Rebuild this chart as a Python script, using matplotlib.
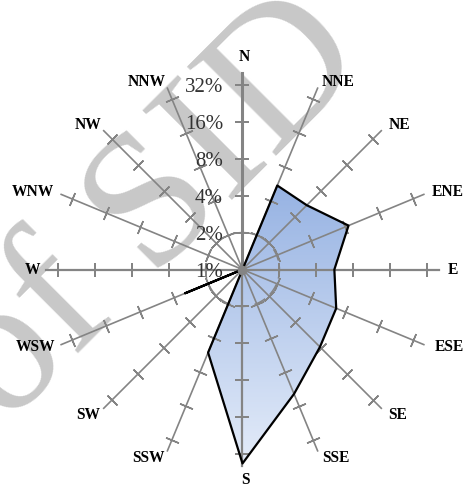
import numpy as np
import matplotlib
matplotlib.use('Agg')
import matplotlib.pyplot as plt

W, H = 464, 487

directions = ['N', 'NNE', 'NE', 'ENE', 'E', 'ESE', 'SE', 'SSE',
              'S', 'SSW', 'SW', 'WSW', 'W', 'WNW', 'NW', 'NNW']
# percent of time per direction, 1 sits at the centre of the log scale
freq = [1, 5.5, 5.5, 8.6, 5.6, 6.7, 7.8, 12.5, 38, 5.4, 1, 3.2, 1, 1, 1, 1]
ticks = [2, 4, 8, 16, 32]
tick_labels = ['1%', '2%', '4%', '8%', '16%', '32%']
label_values = [1, 2, 4, 8, 16, 32]
label_px = [(244, 57), (338, 82), (399, 125), (448, 192), (453, 270), (449, 347),
            (398, 415), (336, 458), (245, 480), (148, 458), (88, 415), (36, 347),
            (33, 270), (33, 192), (88, 125), (147, 82)]

serif = 'Liberation Serif'
grey = '#848484'

fig = plt.figure(figsize=(W / 100, H / 100), dpi=100)

# watermark goes under everything
fig.text(5.4 / W, 1 - 426.6 / H, 'of SID', family=serif, fontsize=138, color='#c8c8c8',
         rotation=45, ha='left', va='baseline', rotation_mode='anchor', zorder=0)

# gradient behind the polygon
grad_ax = fig.add_axes([0, 0, 1, 1], zorder=1)
grad_ax.axis('off')
grad_ax.patch.set_alpha(0)
grad = np.linspace(0, 1, 256).reshape(-1, 1)
cmap = matplotlib.colors.LinearSegmentedColormap.from_list('g', ['#97b3e3', '#e4ecf9'])

cx, cy, R = 242.5, 269.5, 197
ax = fig.add_axes([(cx - R) / W, 1 - (cy + R) / H, 2 * R / W, 2 * R / H],
                  projection='polar', zorder=2)
ax.patch.set_alpha(0)
ax.set_theta_zero_location('N')
ax.set_theta_direction(-1)
ax.set_rscale('log', base=2)
ax.set_rlim(1, 2 ** 5.33)
ax.axis('off')

theta = np.deg2rad(np.arange(16) * 22.5)

poly = ax.fill(np.append(theta, theta[0]), freq + [freq[0]], facecolor='none', edgecolor='none')[0]
im = grad_ax.imshow(grad, cmap=cmap, aspect='auto', extent=[0, W, 466, 186], zorder=1)
grad_ax.set_xlim(0, W)
grad_ax.set_ylim(H, 0)
im.set_clip_path(poly)

# 2% ring
ring = np.linspace(0, 2 * np.pi, 200)
ax.plot(ring, [2] * 200, color=grey, lw=1.1, ls=(0, (8, 4)), zorder=3)

for i, t in enumerate(theta):
    lw = 2.2 if i == 0 else (1.6 if i % 4 == 0 else 1.2)
    ax.plot([t, t], [1, 2 ** 5.31], color=grey, lw=lw, zorder=3, clip_on=False)
    ax.plot([t] * len(ticks), ticks, ls='none', marker=(2, 2, 90 - i * 22.5), ms=10,
            mew=1.1, mec=grey, zorder=3)

ax.plot(np.append(theta, theta[0]), freq + [freq[0]], color='black', lw=1.6, zorder=4)
ax.plot([0], [1], marker='o', ms=7, color=grey, mew=0, zorder=5, clip_on=False)

for v, s in zip(label_values, tick_labels):
    ax.annotate(s, (0, v), xytext=(-14, -2), textcoords='offset points', ha='right', va='center',
                family=serif, fontsize=15, color='#333333', zorder=6)

for name, (x, y) in zip(directions, label_px):
    fig.text(x / W, 1 - y / H, name, family=serif, fontweight='bold', fontsize=11.2,
             color='black', ha='center', va='center', zorder=7)

fig.savefig('out.png', dpi=100)
plt.close()
